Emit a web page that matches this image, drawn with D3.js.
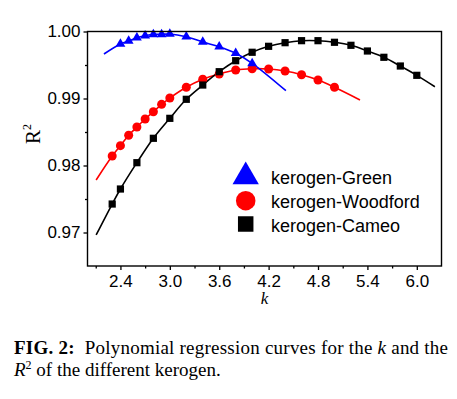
<!DOCTYPE html>
<meta charset="utf-8">
<style>
body { margin: 0; background: #fff; }
</style>
<svg id="svg" width="457" height="399"></svg>
<script src="https://d3js.org/d3.v7.min.js"></script>
<script>
// values
var greenK  = [2.4, 2.5, 2.6, 2.7, 2.8, 2.9, 3.0, 3.2, 3.4, 3.6, 3.8, 4.0];
var greenR2 = [0.99813, 0.99858, 0.99907, 0.99937, 0.99958, 0.99958, 0.99963, 0.99922, 0.99843, 0.99773, 0.99675, 0.99525];
var greenEnds = [[2.2, 0.99664], [4.41, 0.99116]];

var woodK  = [2.3, 2.4, 2.5, 2.6, 2.7, 2.8, 2.9, 3.0, 3.2, 3.4, 3.6, 3.8, 4.0, 4.2, 4.4, 4.6, 4.8, 5.0];
var woodR2 = [0.98142, 0.98296, 0.98451, 0.98575, 0.98694, 0.98803, 0.98913, 0.99007, 0.99167, 0.99287, 0.99366, 0.99425, 0.99445, 0.9944, 0.9941, 0.99355, 0.99276, 0.99167];
var woodEnds = [[2.105, 0.97784], [5.31, 0.98978]];

var cameoK  = [2.3, 2.4, 2.6, 2.8, 3.0, 3.2, 3.4, 3.6, 3.8, 4.0, 4.2, 4.4, 4.6, 4.8, 5.0, 5.2, 5.4, 5.6, 5.8, 6.0];
var cameoR2 = [0.97425, 0.97649, 0.98042, 0.98406, 0.98704, 0.98988, 0.99201, 0.994, 0.99564, 0.9969, 0.99779, 0.99833, 0.99863, 0.99863, 0.99839, 0.99794, 0.99709, 0.99615, 0.99485, 0.99346];
var cameoEnds = [[2.105, 0.96963], [6.22, 0.99176]];

var xTicks = [2.4, 3.0, 3.6, 4.2, 4.8, 5.4, 6.0];
var xMinor = [2.1, 2.7, 3.3, 3.9, 4.5, 5.1, 5.7];
var yTicks = [0.97, 0.98, 0.99, 1.00];
var yMinor = [0.975, 0.985, 0.995];

var legendNames = ["kerogen-Green", "kerogen-Woodford", "kerogen-Cameo"];

var svg = d3.select("svg");
var pLeft = 87.5, pTop = 31.5, pRight = 441.5, pBottom = 266;

var x = d3.scaleLinear().domain([2.0, 6.3]).range([pLeft, pRight]);
var y = d3.scaleLinear().domain([0.965, 1.00]).range([pBottom, pTop]);

svg.append("rect").attr("width", 457).attr("height", 399).attr("fill", "#fff");

var series = [
    {k: greenK, r: greenR2, ends: greenEnds, color: "#0000ff", sym: d3.symbolTriangle, size: 42},
    {k: woodK, r: woodR2, ends: woodEnds, color: "#ff0000", sym: d3.symbolCircle, size: 64},
    {k: cameoK, r: cameoR2, ends: cameoEnds, color: "#000000", sym: d3.symbolSquare, size: 52}
];

var line = d3.line()
    .x(function(d) { return x(d[0]); })
    .y(function(d) { return y(d[1]); })
    .curve(d3.curveCatmullRom);

// curves first, then markers
var drawOrder = [1, 2, 0];
drawOrder.forEach(function(i) {
    var s = series[i];
    var pts = s.k.map(function(k, j) { return [k, s.r[j]]; });
    var curvePts = [s.ends[0]].concat(pts).concat([s.ends[1]]);
    svg.append("path")
        .attr("d", line(curvePts))
        .attr("fill", "none")
        .attr("stroke", s.color)
        .attr("stroke-width", 1.6);
});
drawOrder.forEach(function(i) {
    var s = series[i];
    svg.append("g").selectAll("path")
        .data(s.k)
        .enter().append("path")
        .attr("d", d3.symbol().type(s.sym).size(s.size))
        .attr("transform", function(d, j) {
            return "translate(" + x(d) + "," + y(s.r[j]) + ")";
        })
        .attr("fill", s.color);
});

// frame
svg.append("rect")
    .attr("x", pLeft).attr("y", pTop)
    .attr("width", pRight - pLeft).attr("height", pBottom - pTop)
    .attr("fill", "none").attr("stroke", "#000").attr("stroke-width", 1.4);

var xAxis = svg.append("g")
    .attr("transform", "translate(0," + pBottom + ")")
    .call(d3.axisBottom(x).tickValues(xTicks).tickSize(4).tickFormat(d3.format(".1f")));
svg.append("g")
    .attr("transform", "translate(0," + pBottom + ")")
    .call(d3.axisBottom(x).tickValues(xMinor).tickSize(2.5).tickFormat(""));

var yAxis = svg.append("g")
    .attr("transform", "translate(" + pLeft + ",0)")
    .call(d3.axisLeft(y).tickValues(yTicks).tickSize(4).tickFormat(d3.format(".2f")));
svg.append("g")
    .attr("transform", "translate(" + pLeft + ",0)")
    .call(d3.axisLeft(y).tickValues(yMinor).tickSize(2.5).tickFormat(""));

svg.selectAll(".domain").remove();
svg.selectAll(".tick line").attr("stroke-width", 1.3);
xAxis.selectAll("text")
    .attr("font-family", "Liberation Sans, Arial, sans-serif")
    .attr("font-size", 17).attr("dy", "0.71em").attr("y", 8.5);
yAxis.selectAll("text")
    .attr("font-family", "Liberation Sans, Arial, sans-serif")
    .attr("font-size", 17).attr("x", -7);

// axis titles
svg.append("text")
    .attr("x", 264.5).attr("y", 304)
    .attr("text-anchor", "middle")
    .attr("font-family", "Liberation Serif, Times New Roman, serif")
    .attr("font-style", "italic")
    .attr("font-size", 17)
    .text("k");

var yl = svg.append("text")
    .attr("transform", "translate(40,134) rotate(-90)")
    .attr("text-anchor", "middle")
    .attr("font-family", "Liberation Serif, Times New Roman, serif")
    .attr("font-size", 21);
yl.append("tspan").text("R");
yl.append("tspan").attr("font-size", 12).attr("dy", -9).text("2");

// legend
var legendY = [176.7, 200.7, 224];
var legendSize = [300, 300, 240];
series.forEach(function(s, i) {
    svg.append("path")
        .attr("d", d3.symbol().type(s.sym).size(legendSize[i]))
        .attr("transform", "translate(245.7," + legendY[i] + ")")
        .attr("fill", s.color);
    svg.append("text")
        .attr("x", 271).attr("y", legendY[i] + 7.5)
        .attr("font-family", "Liberation Sans, Arial, sans-serif")
        .attr("font-size", 18)
        .text(legendNames[i]);
});

// caption
var cap1 = svg.append("text")
    .attr("x", 14).attr("y", 354)
    .attr("font-family", "Liberation Serif, Times New Roman, serif")
    .attr("font-size", 19)
    .attr("textLength", 434)
    .attr("lengthAdjust", "spacing");
cap1.append("tspan").attr("font-weight", "bold").text("FIG. 2:");
cap1.append("tspan").text("\u00a0 Polynomial regression curves for the ");
cap1.append("tspan").attr("font-style", "italic").text("k");
cap1.append("tspan").text(" and the");

var cap2 = svg.append("text")
    .attr("x", 14).attr("y", 376)
    .attr("font-family", "Liberation Serif, Times New Roman, serif")
    .attr("font-size", 19);
cap2.append("tspan").attr("font-style", "italic").text("R");
cap2.append("tspan").attr("font-size", 12).attr("dy", -7).text("2");
cap2.append("tspan").attr("dy", 7).text(" of the different kerogen.");
</script>
